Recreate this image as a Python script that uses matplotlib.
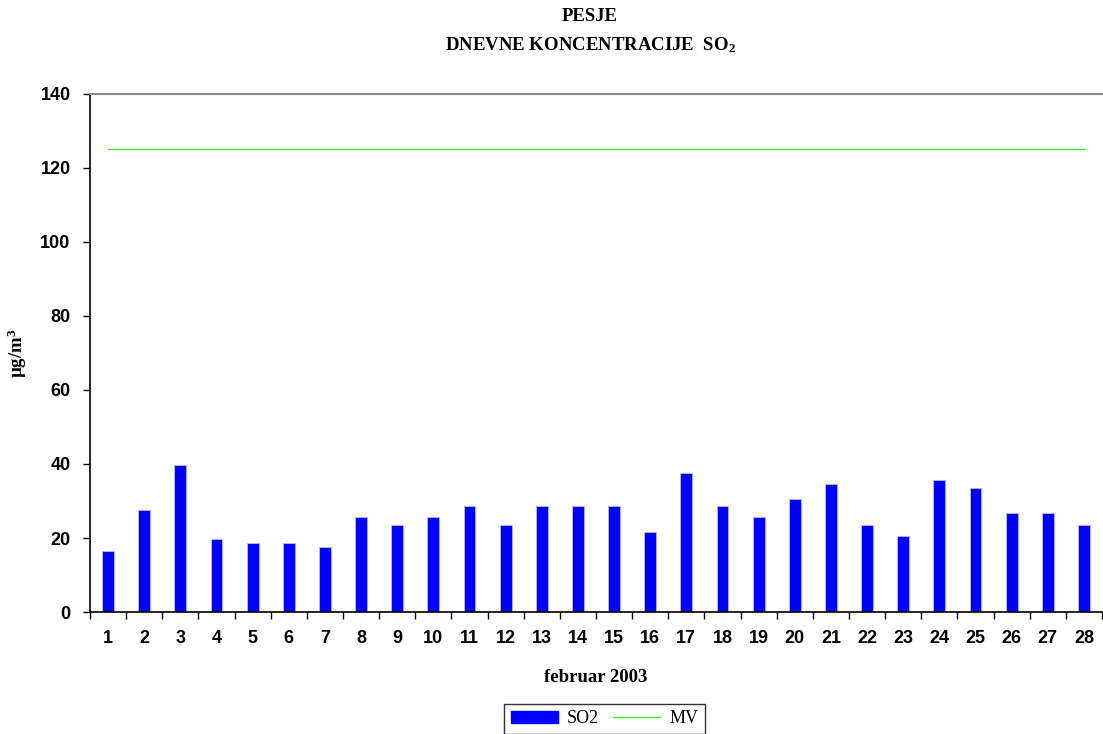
import matplotlib
matplotlib.use('Agg')
import matplotlib.pyplot as plt
import numpy as np
from matplotlib.patches import Patch
from matplotlib.lines import Line2D

#----------------------------------------------------------------------

days = [str(d) for d in range(1, 29)]
so2 = [16.6, 27.6, 39.6, 19.6, 18.6, 18.6, 17.6, 25.6, 23.5, 25.6,
       28.6, 23.5, 28.6, 28.6, 28.6, 21.6, 37.6, 28.6, 25.6, 30.5,
       34.6, 23.5, 20.6, 35.6, 33.6, 26.7, 26.7, 23.5]
mv = [125] * 28
yticks = [0, 20, 40, 60, 80, 100, 120, 140]

#----------------------------------------------------------------------

def main():

	serif = 'Liberation Serif'
	sans = 'Liberation Sans'

	plt.rcParams['mathtext.fontset'] = 'custom'
	plt.rcParams['mathtext.bf'] = 'Liberation Serif:bold'
	plt.rcParams['mathtext.rm'] = 'Liberation Serif'
	plt.rcParams['mathtext.it'] = 'Liberation Serif:italic'

	fig = plt.figure(figsize=(11.03, 7.34), dpi=100)
	ax = fig.add_axes([0.0816, 0.1662, 0.9175, 0.7058])

	x = np.arange(len(days))
	ax.bar(x, so2, width=0.33, color='#0000ff', edgecolor='#b8b8ff', linewidth=0.6, zorder=2)
	ax.plot(x, mv, color='#33ee33', linewidth=1.0, zorder=3)

	ax.set_xlim(-0.5, len(days) - 0.5)
	ax.set_ylim(0, 140)

	ax.set_yticks(yticks)
	ax.set_yticklabels([str(v) for v in yticks], fontfamily=sans, fontweight='bold', fontsize=13)
	ax.tick_params(axis='y', direction='out', length=5, width=1, pad=9)

	ax.set_xticks(x)
	ax.set_xticklabels(days, fontfamily=sans, fontweight='bold', fontsize=13)
	ax.tick_params(axis='x', which='major', length=0, pad=13)
	ax.set_xticks(np.arange(len(days) + 1) - 0.5, minor=True)
	ax.tick_params(axis='x', which='minor', direction='out', length=5, width=1)

	ax.spines['right'].set_visible(False)
	ax.spines['top'].set_color('#888888')
	ax.spines['top'].set_linewidth(1.5)
	ax.spines['left'].set_linewidth(1.2)
	ax.spines['bottom'].set_linewidth(1.2)

	ax.set_xlabel('februar 2003', fontfamily=serif, fontweight='bold', fontsize=13.5, labelpad=16)
	ax.set_ylabel('µg/m$^\\mathbf{3}$', fontfamily=serif, fontweight='bold', fontsize=13.5, labelpad=8)

	fig.text(0.535, 0.977, 'PESJE', ha='center', va='center', fontfamily=serif, fontweight='bold', fontsize=13.5)
	fig.text(0.535, 0.939, 'DNEVNE KONCENTRACIJE  SO$_\\mathbf{2}$', ha='center', va='center',
		fontfamily=serif, fontweight='bold', fontsize=13.5)

	handles = [Patch(facecolor='#0000ff', edgecolor='#0000ff'),
		Line2D([0], [0], color='#33ee33', linewidth=1.0)]
	leg = fig.legend(handles, ['SO2', 'MV'], loc='upper center', bbox_to_anchor=(0.548, 0.053),
		ncol=2, frameon=True, fancybox=False, handlelength=2.6, handleheight=0.6,
		handletextpad=0.5, columnspacing=0.8, borderpad=0.35, prop={'family': serif, 'size': 13})
	leg.get_frame().set_edgecolor('black')
	leg.get_frame().set_linewidth(1.0)

	fig.savefig('out.png', dpi=100)

#----------------------------------------------------------------------

if __name__ == '__main__':
	main()
